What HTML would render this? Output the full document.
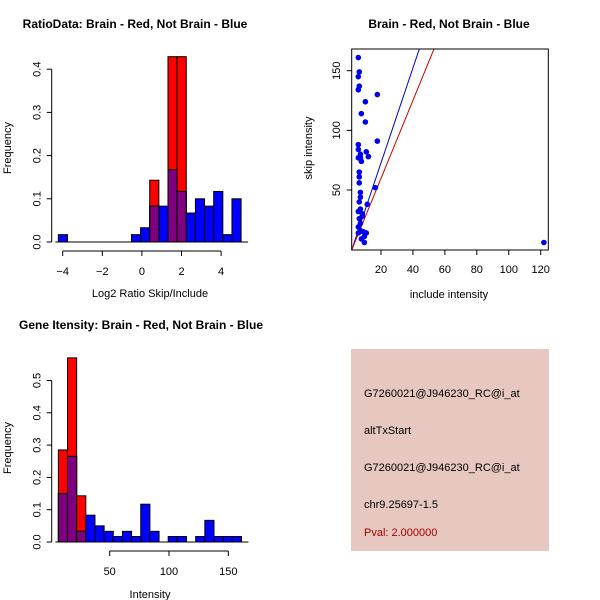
<!DOCTYPE html>
<html><head><meta charset="utf-8"><style>
body{margin:0;background:#fff}
svg{display:block;font-family:"Liberation Sans",sans-serif}
</style></head><body>
<svg id="c" width="600" height="600" viewBox="0 0 600 600">
<rect x="351" y="349" width="198" height="202" fill="#e6c8c0"/>
<text x="364" y="397" font-size="11">G7260021@J946230_RC@i_at</text>
<text x="364" y="434" font-size="11">altTxStart</text>
<text x="364" y="471" font-size="11">G7260021@J946230_RC@i_at</text>
<text x="364" y="508" font-size="11">chr9.25697-1.5</text>
<text x="364" y="536" font-size="11" fill="#a00000">Pval: 2.000000</text>
</svg>
<script>
// Ratio histogram
const ratioStart=-4.22, ratioWidth=0.4615;
const ratioBlue=[0.017,0,0,0,0,0,0,0,0.017,0.033,0.083,0.083,0.167,0.117,0.067,0.1,0.083,0.117,0.017,0.1];
const ratioRed=[0,0,0,0,0,0,0,0,0,0,0.143,0,0.429,0.429,0,0,0,0,0,0];
const ratioXTicks=[-4,-2,0,2,4];
const ratioYTicks=[0,0.1,0.2,0.3,0.4];
// Intensity histogram
const intStart=6.7, intWidth=7.72;
const intBlue=[0.15,0.265,0.033,0.083,0.05,0.033,0.017,0.033,0.017,0.117,0.033,0,0.017,0.017,0,0.017,0.067,0.017,0.017,0.017];
const intRed=[0.285,0.57,0.143,0,0,0,0,0,0,0,0,0,0,0,0,0,0,0,0,0];
const intXTicks=[50,100,150];
const intYTicks=[0,0.1,0.2,0.3,0.4,0.5];
// Scatter
const scX=[5.8,6.4,5.8,6.4,5.8,17.7,10.2,7.7,10.2,17.7,5.8,5.8,10.8,7.1,12.1,5.8,7.1,7.7,6.4,6.4,6.4,16.5,7.1,7.1,6.4,11.4,5.8,7.1,8.3,6.4,7.1,5.8,7.1,9.0,10.8,9.6,7.7,9.6,122,8.3,5.8];
const scY=[161,149,145,137,134,130,124,114,107,91,88,84,82,80,78,77,77,74,65,61,56,52,48,44,40,38,32,34,30,26,22,19,16,15,14,11,9,6,6,28,14];
const scXTicks=[20,40,60,80,100,120];
const scYTicks=[50,100,150];
const lineIntercepts=[-6.9,-5.7];
const lineSlopes=[3.98,3.27];

const svg=document.getElementById('c');
const NS='http://www.w3.org/2000/svg';
function el(t,a,p){const e=document.createElementNS(NS,t);for(const k in a)e.setAttribute(k,a[k]);(p||svg).appendChild(e);return e;}
function txt(x,y,s,size,extra){const e=el('text',Object.assign({x:x,y:y,'font-size':size,'text-anchor':'middle'},extra||{}));e.textContent=s;return e;}

function hist(cfg){
  const g=el('g',{});
  
  
  const X=v=>cfg.x0+(v-cfg.xv0)*cfg.xs, Y=v=>cfg.y0-v*cfg.ys;
  for(let i=0;i<cfg.blue.length;i++){
    const a=X(cfg.start+i*cfg.w), b=X(cfg.start+(i+1)*cfg.w);
    const bv=cfg.blue[i], rv=cfg.red[i], m=Math.min(bv,rv);
    if(rv>0){const r=el('rect',{x:a,y:Y(rv),width:b-a,height:Y(0)-Y(rv),fill:'#ff0000',stroke:'#000','stroke-width':1},g);
      
      }
    if(bv>0){const r=el('rect',{x:a,y:Y(bv),width:b-a,height:Y(0)-Y(bv),fill:'#0000ff',stroke:'#000','stroke-width':1},g);
      
      }
    if(m>0){const r=el('rect',{x:a,y:Y(m),width:b-a,height:Y(0)-Y(m),fill:'#7f007f',stroke:'#000','stroke-width':1},g);
      
      }
  }
  el('line',{x1:X(cfg.start)-3,x2:X(cfg.start+cfg.blue.length*cfg.w)+7,y1:Y(0),y2:Y(0),stroke:'#000'},g);
  const xt=cfg.xticks;
  el('line',{x1:X(xt[0]),x2:X(xt[xt.length-1]),y1:cfg.y0+9,y2:cfg.y0+9,stroke:'#000'},g);
  xt.forEach(v=>{el('line',{x1:X(v),x2:X(v),y1:cfg.y0+9,y2:cfg.y0+14,stroke:'#000'},g);
    const t=txt(X(v),cfg.y0+33,String(v).replace('-','\u2212'),11);g.appendChild(t);});
  const yt=cfg.yticks;
  el('line',{x1:cfg.ax,x2:cfg.ax,y1:Y(yt[0]),y2:Y(yt[yt.length-1]),stroke:'#000'},g);
  yt.forEach(v=>{el('line',{x1:cfg.ax-5,x2:cfg.ax,y1:Y(v),y2:Y(v),stroke:'#000'},g);
    const t=txt(cfg.ax-11,Y(v),v.toFixed(1),11,{transform:`rotate(-90 ${cfg.ax-11} ${Y(v)})`});g.appendChild(t);});
}
hist({name:'ratio-histogram',x0:62.7,xv0:-4,xs:19.8,y0:242,ys:432,start:ratioStart,w:ratioWidth,blue:ratioBlue,red:ratioRed,xticks:ratioXTicks,yticks:ratioYTicks,ax:51.7});
hist({name:'intensity-histogram',x0:109.7,xv0:50,xs:1.186,y0:542,ys:323,start:intStart,w:intWidth,blue:intBlue,red:intRed,xticks:intXTicks,yticks:intYTicks,ax:51.7});

// titles & labels
[[135,28,'RatioData: Brain - Red, Not Brain - Blue','ratio-title'],[449,28,'Brain - Red, Not Brain - Blue','scatter-title'],[141,329,'Gene Itensity: Brain - Red, Not Brain - Blue','intensity-title']].forEach(d=>{
  const t=txt(d[0],d[1],d[2],12,{'font-weight':'bold'});
  
  });
[[150,297,'Log2 Ratio Skip/Include','ratio-x-title'],[150,598,'Intensity','intensity-x-title'],[449,298,'include intensity','scatter-x-title']].forEach(d=>{
  const t=txt(d[0],d[1],d[2],11);
  
  });
[[11,148,'Frequency','ratio-y-title'],[11,448,'Frequency','intensity-y-title'],[312,148,'skip intensity','scatter-y-title']].forEach(d=>{
  const t=txt(d[0],d[1],d[2],11,{transform:`rotate(-90 ${d[0]} ${d[1]})`});
  
  });

// scatter
const SX=v=>381+(v-20)*1.597, SY=v=>190-(v-50)*1.193;
const sg=el('g',{});


el('clipPath',{id:'clp'},sg).appendChild(document.createElementNS(NS,'rect'));
const cr=sg.querySelector('clipPath rect');cr.setAttribute('x',351.7);cr.setAttribute('y',49);cr.setAttribute('width',196.6);cr.setAttribute('height',201);
const cols=['#0000cc','#cc0000'];
lineIntercepts.forEach((a,i)=>{const b=lineSlopes[i];
  const l=el('line',{x1:SX(0),y1:SY(a),x2:SX(200),y2:SY(a+b*200),stroke:cols[i],'stroke-width':1,'clip-path':'url(#clp)'},sg);
  
  });
scX.forEach((x,i)=>{const c=el('circle',{cx:SX(x),cy:SY(scY[i]),r:2.8,fill:'#0000ee'},sg);
  
  });
el('rect',{x:351.7,y:49,width:196.6,height:201,fill:'none',stroke:'#000'},sg);
scXTicks.forEach(v=>{el('line',{x1:SX(v),x2:SX(v),y1:250,y2:255,stroke:'#000'},sg);sg.appendChild(txt(SX(v),273,String(v),11));});
scYTicks.forEach(v=>{el('line',{x1:346.7,x2:351.7,y1:SY(v),y2:SY(v),stroke:'#000'},sg);sg.appendChild(txt(340,SY(v),String(v),11,{transform:`rotate(-90 340 ${SY(v)})`}));});
</script>
</body></html>
